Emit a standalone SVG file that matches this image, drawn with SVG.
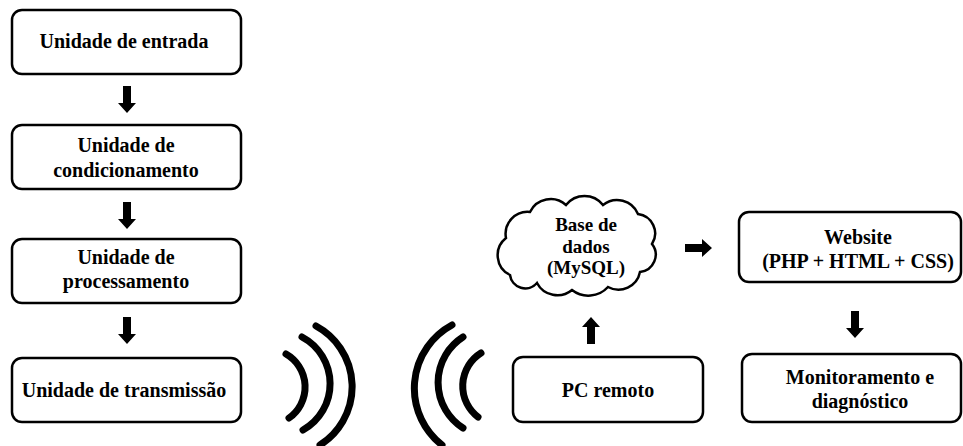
<svg xmlns="http://www.w3.org/2000/svg" xmlns:xlink="http://www.w3.org/1999/xlink" width="963" height="446" viewBox="0 0 963 446">
<style>
.box{fill:#fff;stroke:#000;stroke-width:2.5}
.t{font-family:"Liberation Serif","Times New Roman",serif;font-weight:bold;font-size:20px;fill:#000;text-anchor:middle}
.wave{fill:none;stroke:#000;stroke-width:7;stroke-linecap:round}
.arr{fill:#000}
</style>
<defs>
<polygon id="darr" points="-4,0 4,0 4,17 9,17 0,27 -9,17 -4,17"/>
</defs>
<rect width="963" height="446" fill="#fff"/>
<g id="n1"><rect class="box" x="12" y="10" width="229" height="64" rx="10"/><text class="t" x="124" y="48">Unidade de entrada</text></g>
<g id="n2"><rect class="box" x="12" y="125" width="229" height="64" rx="10"/><text class="t" x="126" y="152">Unidade de</text><text class="t" x="126" y="177">condicionamento</text></g>
<g id="n3"><rect class="box" x="12" y="239" width="229" height="64" rx="10"/><text class="t" x="126" y="264">Unidade de</text><text class="t" x="126" y="288">processamento</text></g>
<g id="n4"><rect class="box" x="12" y="358" width="229" height="64" rx="10"/><text class="t" x="124" y="397">Unidade de transmissão</text></g>
<g id="pc"><rect class="box" x="513" y="357" width="190" height="65" rx="10"/><text class="t" x="608" y="397">PC remoto</text></g>
<g id="db"><path class="box" d="M510,275 A22,22 0 0 1 506,238 A22,22 0 0 1 530,212 A23,23 0 0 1 566,205 A23.5,23.5 0 0 1 603,205 A22.6,22.6 0 0 1 638,214 A19.6,19.6 0 0 1 652,244 A17.4,17.4 0 0 1 640,272 A22,22 0 0 1 608,287 A26.6,26.6 0 0 1 572,290 A23,23 0 0 1 537,283 A15.4,15.4 0 0 1 510,275 Z"/><text class="t" x="586" y="231" style="font-size:19px">Base de</text><text class="t" x="586" y="253" style="font-size:19px">dados</text><text class="t" x="586" y="274" style="font-size:19px">(MySQL)</text></g>
<g id="web"><rect class="box" x="739" y="212" width="222" height="70" rx="10"/><text class="t" x="858" y="244">Website</text><text class="t" x="858" y="268">(PHP + HTML + CSS)</text></g>
<g id="mon"><rect class="box" x="742" y="354" width="219" height="68" rx="10"/><text class="t" x="860" y="384">Monitoramento e</text><text class="t" x="860" y="408">diagnóstico</text></g>
<g id="waves">
<path class="wave" d="M286,354 A38,38 0 0 1 289,418"/>
<path class="wave" d="M302,337 A53,53 0 0 1 303,430"/>
<path class="wave" d="M316,326 A69,69 0 0 1 320,445"/>
<path class="wave" d="M452,325 A72,72 0 0 0 442,445"/>
<path class="wave" d="M463,337 A54,54 0 0 0 463,428"/>
<path class="wave" d="M481,353 A39,39 0 0 0 478,417"/>
</g>
<g id="connectors" class="arr">
<use xlink:href="#darr" transform="translate(127,86)"/>
<use xlink:href="#darr" transform="translate(127,202)"/>
<use xlink:href="#darr" transform="translate(127,317)"/>
<use xlink:href="#darr" transform="translate(591,344) rotate(180)"/>
<use xlink:href="#darr" transform="translate(685,248) rotate(-90)"/>
<use xlink:href="#darr" transform="translate(855,311)"/>
</g>
</svg>
